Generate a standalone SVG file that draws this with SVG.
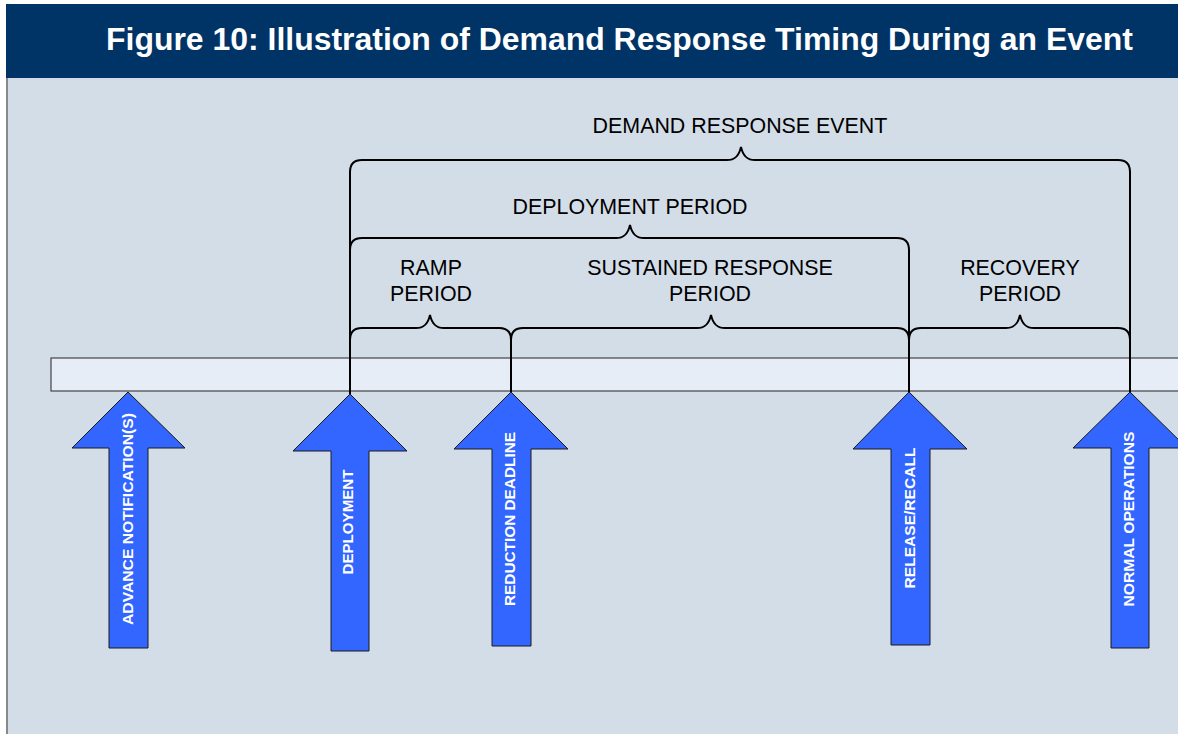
<svg xmlns="http://www.w3.org/2000/svg" width="1178" height="734" viewBox="0 0 1178 734">
<style>
.lbl{font-family:"Liberation Sans",Arial,sans-serif;font-size:21.4px;fill:#000;text-anchor:middle}
.arr{fill:#3366FF;stroke:#1a1a1a;stroke-width:1}
.atxt{font-family:"Liberation Sans",Arial,sans-serif;font-size:15.3px;font-weight:bold;fill:#fff;text-anchor:middle}
.br{fill:none;stroke:#000;stroke-width:2}
</style>
<rect x="0" y="0" width="1178" height="734" fill="#fff"/>
<rect x="6" y="78" width="1172" height="656" fill="#D3DDE8"/>
<rect x="6" y="78" width="2" height="656" fill="#888"/>
<rect x="6" y="4" width="1172" height="74" fill="#003366"/>
<text x="106" y="50" textLength="1027" lengthAdjust="spacingAndGlyphs" font-family="Liberation Sans, Arial, sans-serif" font-size="31.5" font-weight="bold" fill="#fff">Figure 10: Illustration of Demand Response Timing During an Event</text>

<g id="timeline"><rect x="51" y="358" width="1140" height="33" fill="#E6EDF7" stroke="#444" stroke-width="1.2"/></g>

<g id="connectors">
<path class="br" d="M350,394 V172 Q350,160 362,160 H727 C735,160 739,156 741,147 C743,156 747,160 755,160 H1118 Q1130,160 1130,172 V392"/>
<path class="br" d="M350,250 Q350,238 362,238 H616 C624,238 628,234 630,225 C632,234 636,238 644,238 H897 Q909,238 909,250 V392"/>
<path class="br" d="M350,340 Q350,328 362,328 H416 C424,328 428,324 430,315 C432,324 436,328 444,328 H499 Q511,328 511,340"/>
<path class="br" d="M511,392 V340 Q511,328 523,328 H697 C705,328 709,324 711,315 C713,324 717,328 725,328 H897 Q909,328 909,340"/>
<path class="br" d="M909,340 Q909,328 921,328 H1006 C1014,328 1018,324 1020,315 C1022,324 1026,328 1034,328 H1118 Q1130,328 1130,340"/>
</g>

<g id="labels">
<text class="lbl" x="740" y="133">DEMAND RESPONSE EVENT</text>
<text class="lbl" x="630" y="214">DEPLOYMENT PERIOD</text>
<text class="lbl" x="431" y="275">RAMP</text>
<text class="lbl" x="431" y="301">PERIOD</text>
<text class="lbl" x="710" y="275">SUSTAINED RESPONSE</text>
<text class="lbl" x="710" y="301">PERIOD</text>
<text class="lbl" x="1020" y="275">RECOVERY</text>
<text class="lbl" x="1020" y="301">PERIOD</text>
</g>

<g id="advance">
<polygon class="arr" points="128,392 185,448 148,448 148,648 109,648 109,448 72,448"/>
<text class="atxt" transform="translate(133,519) rotate(-90)" textLength="212" lengthAdjust="spacingAndGlyphs">ADVANCE NOTIFICATION(S)</text>
</g>
<g id="deployment">
<polygon class="arr" points="350,394 407,451 369,451 369,651 331,651 331,451 293,451"/>
<text class="atxt" transform="translate(353,522) rotate(-90)" textLength="105" lengthAdjust="spacingAndGlyphs">DEPLOYMENT</text>
</g>
<g id="reduction">
<polygon class="arr" points="511,392 568,449 531,449 531,646 492,646 492,449 454,449"/>
<text class="atxt" transform="translate(515,519) rotate(-90)" textLength="174" lengthAdjust="spacingAndGlyphs">REDUCTION DEADLINE</text>
</g>
<g id="release">
<polygon class="arr" points="909,392 967,449 930,449 930,645 891,645 891,449 853,449"/>
<text class="atxt" transform="translate(915,518) rotate(-90)" textLength="141" lengthAdjust="spacingAndGlyphs">RELEASE/RECALL</text>
</g>
<g id="normal">
<polygon class="arr" points="1130,392 1187,448 1149,448 1149,648 1111,648 1111,448 1073,448"/>
<text class="atxt" transform="translate(1134,519) rotate(-90)" textLength="175" lengthAdjust="spacingAndGlyphs">NORMAL OPERATIONS</text>
</g>
</svg>
